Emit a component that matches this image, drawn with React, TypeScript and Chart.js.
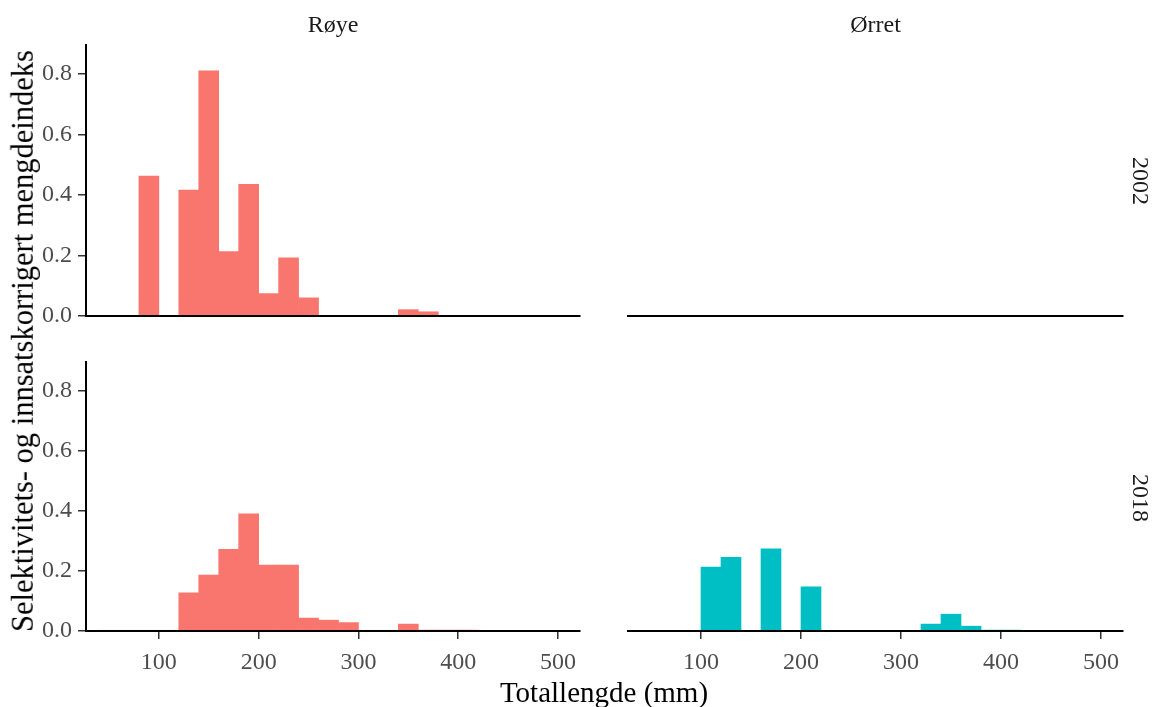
import React, { useEffect, useRef } from "react";
import { Chart, registerables } from "chart.js";
Chart.register(...registerables);

// Bin centres (20 mm bins from 40 to 420 mm)
const binCenters = [50, 70, 90, 110, 130, 150, 170, 190, 210, 230, 250, 270, 290, 310, 330, 350, 370, 390, 410];
const royeY2002 = [0, 0, 0.462, 0, 0.416, 0.81, 0.213, 0.435, 0.074, 0.192, 0.06, 0, 0, 0, 0, 0.021, 0.014, 0, 0];
const orretY2002: number[] = [];
const royeY2018 = [0.002, 0.002, 0.002, 0.002, 0.127, 0.186, 0.272, 0.39, 0.219, 0.219, 0.043, 0.036, 0.028, 0.002, 0.002, 0.023, 0.003, 0.003, 0.003];
const orretY2018 = [0.002, 0.002, 0.002, 0.213, 0.245, 0.002, 0.273, 0.002, 0.147, 0.002, 0.002, 0.002, 0.002, 0.002, 0.023, 0.056, 0.016, 0.003, 0.003];

const xTickValues = [100, 200, 300, 400, 500];
const yTickValues = [0, 0.2, 0.4, 0.6, 0.8];
const facetCols = ["Røye", "Ørret"];
const facetRows = ["2002", "2018"];
const xTitle = "Totallengde (mm)";
const yTitle = "Selektivitets- og innsatskorrigert mengdeindeks";

const W = 1154;
const H = 707;
const FONT = "'Liberation Serif', 'Times New Roman', serif";
const RED = "#F8766D";
const TEAL = "#00BFC4";
const TICK_SIZE = 24;

const panels = [
  { values: royeY2002, color: RED, left: 86, right: 580, top: 45, bottom: 316, showX: false, showY: true },
  { values: orretY2002, color: TEAL, left: 628, right: 1123, top: 45, bottom: 316, showX: false, showY: false },
  { values: royeY2018, color: RED, left: 86, right: 580, top: 362, bottom: 631, showX: true, showY: true },
  { values: orretY2018, color: TEAL, left: 628, right: 1123, top: 362, bottom: 631, showX: true, showY: false },
];

function Panel({ p }: { p: (typeof panels)[number] }) {
  const ref = useRef<HTMLCanvasElement>(null);
  useEffect(() => {
    if (!ref.current) return;
    const xAxisH = p.showX ? 45 : 4;
    const chart = new Chart(ref.current, {
      type: "bar",
      data: {
        datasets: [
          {
            data: p.values.map((v, i) => ({ x: binCenters[i], y: v })),
            backgroundColor: p.color,
            borderWidth: 0,
            barPercentage: 1,
            categoryPercentage: 1,
          } as any,
        ],
      },
      options: {
        responsive: false,
        animation: false,
        layout: {
          padding: {
            left: p.showY ? 0 : p.left,
            right: W - p.right,
            top: p.top,
            bottom: H - p.bottom - xAxisH,
          },
        },
        plugins: { legend: { display: false }, tooltip: { enabled: false } },
        scales: {
          x: {
            type: "linear",
            offset: false,
            min: 27,
            max: 522,
            afterBuildTicks: (s: any) => {
              s.ticks = xTickValues.map((v) => ({ value: v }));
            },
            afterFit: (s: any) => {
              s.height = xAxisH;
            },
            grid: { display: p.showX, offset: false, drawOnChartArea: false, drawTicks: true, tickLength: 8, color: "#333333", lineWidth: 1.5 },
            border: { display: true, color: "#000000", width: 2, z: 1 },
            ticks: {
              display: p.showX,
              padding: 9,
              color: "#4D4D4D",
              font: { family: FONT, size: TICK_SIZE },
              maxRotation: 0,
              autoSkip: false,
            },
          },
          y: {
            display: p.showY,
            min: 0,
            max: 0.895,
            afterBuildTicks: (s: any) => {
              s.ticks = yTickValues.map((v) => ({ value: v }));
            },
            afterFit: (s: any) => {
              if (p.showY) s.width = p.left;
            },
            grid: { display: true, drawOnChartArea: false, drawTicks: true, tickLength: 8, color: "#333333", lineWidth: 1.5 },
            border: { display: true, color: "#000000", width: 2, z: 1 },
            ticks: {
              padding: 6,
              color: "#4D4D4D",
              font: { family: FONT, size: TICK_SIZE },
              callback: (v: any) => Number(v).toFixed(1),
            },
          },
        },
      } as any,
    });
    return () => chart.destroy();
  }, [p]);
  return (
    <canvas
      ref={ref}
      width={W}
      height={H}
      style={{ position: "absolute", left: 0, top: 0, width: W, height: H }}
    />
  );
}

function Label({ text, x, y, size, color, rotate }: { text: string; x: number; y: number; size: number; color: string; rotate?: number }) {
  return (
    <div
      style={{
        position: "absolute",
        left: x,
        top: y,
        transform: `translate(-50%, -50%) rotate(${rotate || 0}deg)`,
        fontFamily: FONT,
        fontSize: size,
        color,
        whiteSpace: "nowrap",
        lineHeight: 1,
      }}
    >
      {text}
    </div>
  );
}

export default function App() {
  return (
    <div style={{ position: "absolute", left: 0, top: 0, width: W, height: H, background: "#fff", overflow: "hidden" }}>
      {panels.map((p, i) => (
        <Panel key={i} p={p} />
      ))}
      <Label text={facetCols[0]} x={333} y={24} size={24} color="#1A1A1A" />
      <Label text={facetCols[1]} x={875.5} y={24} size={24} color="#1A1A1A" />
      <Label text={facetRows[0]} x={1141} y={180.5} size={24} color="#1A1A1A" rotate={90} />
      <Label text={facetRows[1]} x={1141} y={498} size={24} color="#1A1A1A" rotate={90} />
      <Label text={xTitle} x={604} y={692} size={29} color="#000000" />
      <Label text={yTitle} x={23} y={341} size={30.5} color="#000000" rotate={-90} />
    </div>
  );
}
